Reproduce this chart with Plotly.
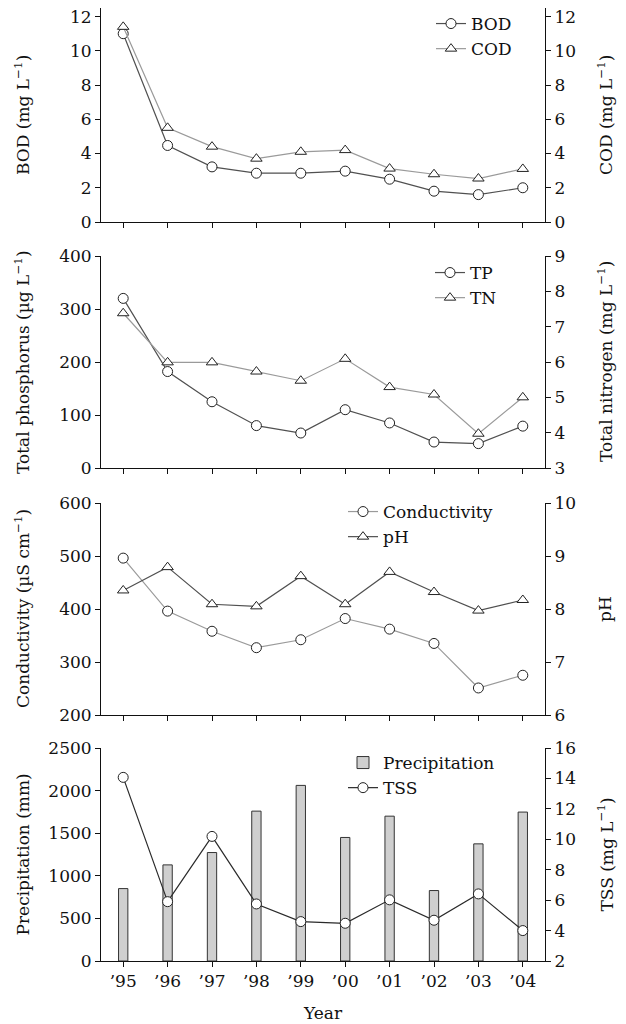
import plotly.graph_objects as go

years = ["\u201995", "\u201996", "\u201997", "\u201998", "\u201999",
         "\u201900", "\u201901", "\u201902", "\u201903", "\u201904"]

bod = [11.0, 4.47, 3.22, 2.85, 2.85, 2.97, 2.5, 1.8, 1.6, 2.0]
cod = [11.4, 5.5, 4.4, 3.7, 4.1, 4.2, 3.12, 2.79, 2.54, 3.1]

tp = [320, 182, 125, 80, 66, 110, 85, 49, 46, 79]
tn = [7.38, 5.99, 5.99, 5.73, 5.47, 6.09, 5.29, 5.08, 3.97, 5.0]

conductivity = [496, 396, 358, 327, 342, 382, 362, 335, 251, 275]
ph = [8.35, 8.79, 8.09, 8.05, 8.62, 8.09, 8.7, 8.32, 7.97, 8.17]

precipitation = [850, 1128, 1273, 1759, 2061, 1450, 1700, 827, 1375, 1748]
tss = [14.07, 5.9, 10.19, 5.75, 4.59, 4.48, 6.02, 4.68, 6.41, 4.0]

FONT = "DejaVu Serif"
TXT = "#111111"
DARK = "#505050"
LIGHT = "#9a9a9a"

# plot area geometry (pixels)
W, H = 626, 1024
L, R, T, B = 101, 81, 8, 63
PW = W - L - R
PH = H - T - B


def py(pix):
    return (H - B - pix) / PH


def px(pix):
    return (pix - L) / PW


domains = [
    [py(222), py(8)],
    [py(468), py(256)],
    [py(715), py(503)],
    [py(961), py(748)],
]

fig = go.Figure()

mk = dict(size=10, color="white", line=dict(color="#222", width=1))


def line_trace(y, name, color, symbol, xa, ya, legend):
    return go.Scatter(
        x=years, y=y, name=name, mode="lines+markers",
        line=dict(color=color, width=1.2),
        marker=dict(symbol=symbol, **mk),
        xaxis=xa, yaxis=ya, legend=legend,
    )


# Panel 1
fig.add_trace(line_trace(bod, "BOD", DARK, "circle", "x", "y", "legend"))
fig.add_trace(line_trace(cod, "COD", LIGHT, "triangle-up", "x", "y2", "legend"))
# Panel 2
fig.add_trace(line_trace(tp, "TP", DARK, "circle", "x2", "y3", "legend2"))
fig.add_trace(line_trace(tn, "TN", LIGHT, "triangle-up", "x2", "y4", "legend2"))
# Panel 3
fig.add_trace(line_trace(conductivity, "Conductivity", LIGHT, "circle", "x3", "y5", "legend3"))
fig.add_trace(line_trace(ph, "pH", DARK, "triangle-up", "x3", "y6", "legend3"))
# Panel 4
fig.add_trace(go.Bar(
    x=years, y=precipitation, name="Precipitation", width=0.21,
    marker=dict(color="#cfcfcf", line=dict(color="#333", width=1)),
    xaxis="x4", yaxis="y7", legend="legend4",
))
fig.add_trace(line_trace(tss, "TSS", "#2a2a2a", "circle", "x4", "y8", "legend4"))

tickfont = dict(family=FONT, size=17, color=TXT)
axcommon = dict(showline=True, linecolor="#111", linewidth=1, ticks="outside",
                ticklen=5, tickcolor="#111", showgrid=False, zeroline=False,
                tickfont=tickfont)

yleft = [dict(range=[0, 12.5], tickvals=[0, 2, 4, 6, 8, 10, 12]),
         dict(range=[0, 400], dtick=100, tick0=0),
         dict(range=[200, 600], dtick=100, tick0=200),
         dict(range=[0, 2500], dtick=500, tick0=0)]
yright = [dict(range=[0, 12.5], tickvals=[0, 2, 4, 6, 8, 10, 12]),
          dict(range=[3, 9], dtick=1, tick0=3),
          dict(range=[6, 10], dtick=1, tick0=6),
          dict(range=[2, 16], dtick=2, tick0=2)]

layout = {}
for i in range(4):
    xn = "xaxis" if i == 0 else f"xaxis{i + 1}"
    yl = 2 * i + 1
    yr = 2 * i + 2
    ylname = "yaxis" if yl == 1 else f"yaxis{yl}"
    yrname = f"yaxis{yr}"
    layout[xn] = dict(domain=[0, 1], anchor="y" if yl == 1 else f"y{yl}",
                      type="category", range=[-0.5, 9.5],
                      showticklabels=(i == 3), **axcommon)
    xref = "x" if i == 0 else f"x{i + 1}"
    layout[ylname] = dict(domain=domains[i], anchor=xref, side="left",
                          **yleft[i], **axcommon)
    layout[yrname] = dict(domain=domains[i], anchor=xref, side="right",
                          overlaying="y" if yl == 1 else f"y{yl}",
                          **yright[i], **axcommon)

layout["xaxis4"]["title"] = dict(text="Year", font=dict(family=FONT, size=17, color=TXT),
                                 standoff=16)

legfont = dict(family=FONT, size=17, color=TXT)
legcommon = dict(font=legfont, bgcolor="rgba(0,0,0,0)", borderwidth=0,
                 xanchor="left", yanchor="top", itemwidth=30,
                 traceorder="normal")
layout["legend"] = dict(x=px(431), y=py(6), **legcommon)
layout["legend2"] = dict(x=px(430), y=py(255), **legcommon)
layout["legend3"] = dict(x=px(343), y=py(494), **legcommon)
layout["legend4"] = dict(x=px(343), y=py(745), **legcommon)

fig.update_layout(**layout)

# axis titles as rotated annotations
left_titles = ["BOD (mg L<sup>\u22121</sup>)",
               "Total phosphorus (\u00b5g L<sup>\u22121</sup>)",
               "Conductivity (\u00b5S cm<sup>\u22121</sup>)",
               "Precipitation (mm)"]
right_titles = ["COD (mg L<sup>\u22121</sup>)",
                "Total nitrogen (mg L<sup>\u22121</sup>)",
                "pH",
                "TSS (mg L<sup>\u22121</sup>)"]
for i in range(4):
    yc = (domains[i][0] + domains[i][1]) / 2
    fig.add_annotation(text=left_titles[i], xref="paper", yref="paper",
                       x=px(22), y=yc, textangle=-90, showarrow=False,
                       xanchor="center", yanchor="middle",
                       font=dict(family=FONT, size=17, color=TXT))
    fig.add_annotation(text=right_titles[i], xref="paper", yref="paper",
                       x=px(605), y=yc, textangle=-90, showarrow=False,
                       xanchor="center", yanchor="middle",
                       font=dict(family=FONT, size=17, color=TXT))

fig.update_layout(
    width=W, height=H,
    margin=dict(l=L, r=R, t=T, b=B, autoexpand=False),
    paper_bgcolor="white", plot_bgcolor="white",
    showlegend=True, bargap=0.5,
    font=dict(family=FONT, color=TXT),
)

fig.write_html("out.html",
               config={"displayModeBar": False},
               post_script="document.body.style.margin='0px';"
                           "document.documentElement.style.overflow='hidden';")
